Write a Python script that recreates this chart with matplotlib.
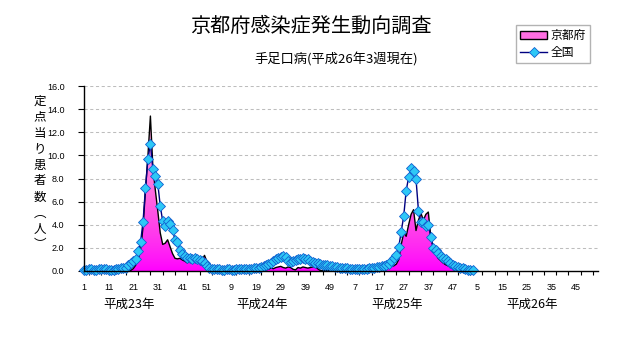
import numpy as np
from matplotlib import pyplot as plt
from matplotlib.colors import LinearSegmentedColormap
from matplotlib.patches import Polygon, Rectangle
from matplotlib.lines import Line2D

# weekly values, H23 week 1 -> H26 week 3
national_h23 = [0.12, 0.10, 0.15, 0.18, 0.12, 0.10, 0.15, 0.20, 0.18, 0.15,
                0.10, 0.08, 0.12, 0.15, 0.20, 0.22, 0.25, 0.30, 0.50, 0.72,
                0.85, 1.07, 1.70, 2.50, 4.25, 7.20, 9.70, 11.00, 8.80, 8.20,
                7.55, 5.65, 4.30, 3.90, 4.35, 4.05, 3.55, 2.70, 2.50, 1.80,
                1.45, 1.27, 1.15, 1.10, 1.05, 1.10, 1.00, 0.95, 0.85, 0.65,
                0.45, 0.30]
national_h24 = [0.20, 0.18, 0.15, 0.15, 0.12, 0.12, 0.15, 0.15, 0.12, 0.12,
                0.15, 0.15, 0.18, 0.15, 0.15, 0.18, 0.20, 0.22, 0.25, 0.30,
                0.35, 0.45, 0.50, 0.60, 0.72, 0.85, 1.00, 1.10, 1.25, 1.30,
                1.20, 0.85, 0.75, 0.85, 0.95, 1.00, 1.05, 1.10, 1.05, 1.00,
                0.85, 0.75, 0.70, 0.65, 0.60, 0.55, 0.50, 0.48, 0.45, 0.40,
                0.35, 0.32]
national_h25 = [0.30, 0.28, 0.25, 0.22, 0.20, 0.20, 0.18, 0.18, 0.15, 0.15,
                0.18, 0.20, 0.22, 0.25, 0.28, 0.32, 0.37, 0.40, 0.45, 0.50,
                0.60, 0.85, 1.15, 1.35, 2.10, 3.40, 4.75, 6.95, 8.10, 8.90,
                8.65, 7.95, 5.20, 4.20, 4.20, 3.90, 4.00, 2.95, 2.00, 1.80,
                1.55, 1.30, 1.15, 1.00, 0.90, 0.70, 0.55, 0.45, 0.35, 0.30,
                0.22, 0.15]
national_h26 = [0.10, 0.05, 0.05]

kyoto_h23 = [0.00, 0.00, 0.00, 0.00, 0.02, 0.00, 0.00, 0.02, 0.00, 0.00,
             0.00, 0.02, 0.00, 0.00, 0.02, 0.03, 0.02, 0.03, 0.05, 0.05,
             0.20, 0.50, 1.00, 1.80, 3.80, 7.00, 10.00, 13.40, 9.00, 7.00,
             5.20, 3.30, 2.30, 2.40, 2.70, 2.10, 1.50, 1.10, 1.05, 1.10,
             0.95, 0.85, 0.70, 0.90, 0.75, 0.80, 0.85, 0.90, 0.95, 1.35,
             0.80, 0.20]
kyoto_h24 = [0.05, 0.03, 0.02, 0.02, 0.03, 0.02, 0.02, 0.03, 0.02, 0.02,
             0.02, 0.03, 0.02, 0.02, 0.03, 0.02, 0.03, 0.05, 0.05, 0.05,
             0.10, 0.05, 0.10, 0.15, 0.25, 0.20, 0.30, 0.35, 0.40, 0.30,
             0.25, 0.35, 0.30, 0.15, 0.10, 0.30, 0.25, 0.35, 0.30, 0.25,
             0.30, 0.35, 0.40, 0.20, 0.05, 0.03, 0.02, 0.03, 0.02, 0.02,
             0.03, 0.02]
kyoto_h25 = [0.02, 0.03, 0.02, 0.02, 0.03, 0.02, 0.03, 0.02, 0.03, 0.03,
             0.03, 0.05, 0.05, 0.05, 0.05, 0.10, 0.15, 0.20, 0.25, 0.30,
             0.35, 0.40, 0.45, 0.60, 1.00, 2.30, 3.30, 3.00, 4.00, 4.90,
             5.30, 3.50, 4.40, 5.00, 4.40, 4.90, 5.10, 3.00, 2.00, 1.50,
             1.10, 0.90, 0.70, 0.55, 0.45, 0.35, 0.30, 0.20, 0.15, 0.10,
             0.05, 0.03]
kyoto_h26 = [0.03, 0.02, 0.02]

week_labels = ['1', '11', '21', '31', '41', '51', '9', '19', '29', '39', '49',
               '7', '17', '27', '37', '47', '5', '15', '25', '35', '45']
year_labels = ['平成23年', '平成24年', '平成25年', '平成26年']
series_names = ['京都府', '全国']
ylabel_chars = ['定', '点', '当', 'り', '患', '者', '数', '︵', '人', '︶']

W, H = 632, 348
JP = ['Noto Sans CJK JP', 'DejaVu Sans']


def px(x, y):
    # pixel position (from top-left) -> figure fraction
    return x / W, 1 - y / H


def draw_kyoto(ax, x, kyoto):
    cmap = LinearSegmentedColormap.from_list('kyoto', ['#ff00ff', '#ff5ae2', '#ffb4e0'])
    verts = list(zip(x, kyoto)) + [(x[-1], 0), (x[0], 0)]
    shape = Polygon(verts, closed=True, facecolor='none', edgecolor='none')
    ax.add_patch(shape)
    grad = np.linspace(0, 1, 256).reshape(-1, 1) ** 0.8
    img = ax.imshow(grad, extent=[x[0], x[-1], 0, kyoto.max()], origin='lower',
                    cmap=cmap, aspect='auto', zorder=2)
    img.set_clip_path(shape)
    ax.plot(x, kyoto, color='black', lw=1.0, zorder=3)


def main():
    national = np.array(national_h23 + national_h24 + national_h25 + national_h26)
    kyoto = np.array(kyoto_h23 + kyoto_h24 + kyoto_h25 + kyoto_h26)
    x = np.arange(len(national))

    plt.rcParams['font.family'] = ['Liberation Sans', 'DejaVu Sans']
    fig = plt.figure(figsize=(W / 100, H / 100), dpi=100)
    fig.patch.set_facecolor('white')
    ax = fig.add_axes([84 / W, 1 - 271 / H, (598 - 84) / W, (271 - 86) / H])

    for v in range(2, 17, 2):
        ax.axhline(v, color='#bdbdbd', lw=0.75, linestyle=(0, (3, 2.5)), zorder=1)

    draw_kyoto(ax, x, kyoto)
    ax.plot(x, national, color='#000080', lw=1.0, marker='D', ms=5,
            mfc='#2ec8f6', mec='#1060d0', mew=0.6, zorder=4, clip_on=False)

    ax.set_xlim(0, 209)
    ax.set_ylim(0, 16)
    ax.set_yticks(np.arange(0, 17, 2))
    ax.set_yticklabels(['%.1f' % v for v in np.arange(0, 17, 2)], fontsize=6.5)
    ax.set_xticks(np.arange(0, 201, 10))
    ax.set_xticklabels(week_labels, fontsize=6.5)
    ax.set_xticks(np.arange(2, 209, 5), minor=True)
    ax.tick_params(axis='x', which='major', length=0, pad=9)
    ax.tick_params(axis='x', which='minor', length=3, width=0.8, direction='out')
    ax.tick_params(axis='y', length=4, width=0.8, direction='out', pad=10)
    for s in ['top', 'right']:
        ax.spines[s].set_visible(False)
    for s in ['left', 'bottom']:
        ax.spines[s].set_linewidth(1.0)
        ax.spines[s].set_zorder(5)

    # year captions under the week numbers
    for label, xp in zip(year_labels, [129, 262.5, 397.5, 532.5]):
        fig.text(*px(xp, 304), label, ha='center', va='center', fontsize=9, family=JP)

    # vertical y caption
    for i, ch in enumerate(ylabel_chars):
        fig.text(*px(40, 101 + 16 * i), ch, ha='center', va='center', fontsize=9, family=JP)

    fig.text(*px(311, 26), '京都府感染症発生動向調査', ha='center', va='center',
             fontsize=14.5, family=JP)
    fig.text(*px(336, 59), '手足口病(平成26年3週現在)', ha='center', va='center',
             fontsize=9.5, family=JP)

    handles = [Rectangle((0, 0), 1, 1, facecolor='#ff6ee2', edgecolor='black', lw=1.0),
               Line2D([], [], color='#000080', lw=1.0, marker='D', ms=5,
                      mfc='#2ec8f6', mec='#1060d0', mew=0.6)]
    leg = fig.legend(handles, series_names, loc='upper right',
                     bbox_to_anchor=px(590, 25), bbox_transform=fig.transFigure,
                     borderaxespad=0, fancybox=False, edgecolor='#a0a0a0',
                     handlelength=2.3, handleheight=0.6, handletextpad=0.3,
                     borderpad=0.35, labelspacing=0.3, prop={'family': JP, 'size': 8.5})
    leg.get_frame().set_linewidth(1.0)

    fig.savefig('out.png', dpi=100)


if __name__ == '__main__':
    main()
